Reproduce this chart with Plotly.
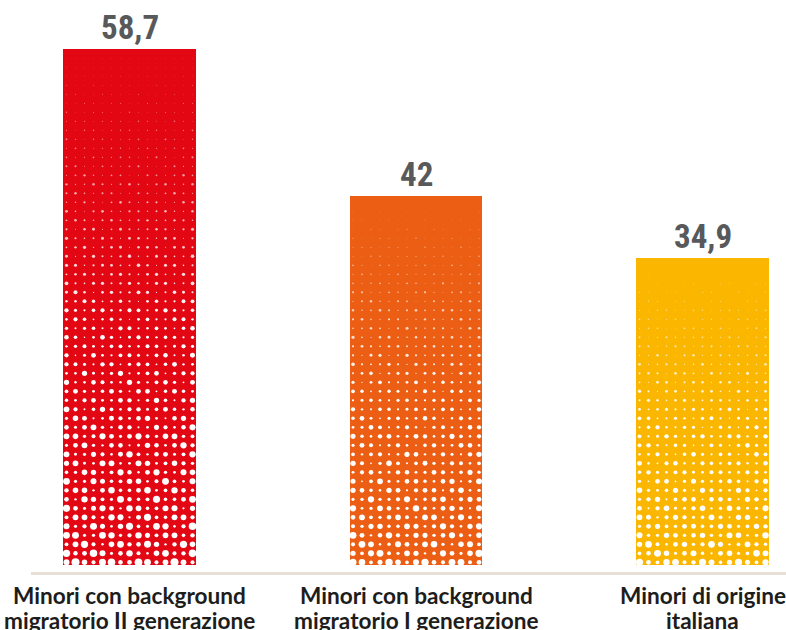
import math
import plotly.graph_objects as go

# --- data -------------------------------------------------------------
categories = [
    "Minori con background\nmigratorio II generazione",
    "Minori con background\nmigratorio I generazione",
    "Minori di origine\nitaliana",
]
values = [58.7, 42, 34.9]
value_labels = ["58,7", "42", "34,9"]
bar_colors = ["#E30613", "#EB5E14", "#FBB600"]

# --- geometry (axis units) --------------------------------------------
BAR_WIDTH = 0.464
X_RANGE = [-0.3438, 2.2914]
Y_RANGE = [-0.796, 64.27]
PX_PER_X = 286.5          # pixels per category step
PX_PER_Y = 8.79           # pixels per value unit
DOT_STEP_PX = 9.0         # halftone grid pitch

xs = list(range(len(categories)))

fig = go.Figure()

fig.add_trace(go.Bar(
    x=xs,
    y=values,
    width=BAR_WIDTH,
    marker=dict(color=bar_colors, line=dict(width=0)),
    hoverinfo="skip",
    showlegend=False,
))

# --- halftone texture: white dots growing toward the base of each bar ---
dot_x, dot_y, dot_s, dot_o = [], [], [], []
n_cols = 15
tallest = max(values)
for bi, (xc, v) in enumerate(zip(xs, values)):
    step_y = DOT_STEP_PX / PX_PER_Y
    step_x = DOT_STEP_PX / PX_PER_X
    s_max = 4.6 + 1.6 * (v / tallest)
    y = 0.3
    r = 0
    while y < v - 0.4:
        t = 1.0 - y / v  # 0 at the top of the bar, 1 at the base
        for c in range(n_cols):
            off = (c - (n_cols - 1) / 2) * step_x
            wob = 0.78 + 0.3 * math.sin(1.7 * c + 2.3 * r + 0.9 * bi) \
                + 0.12 * math.sin(0.45 * c * r + 1.1)
            size = max(0.7, (0.6 + s_max * t ** 1.05) * wob)
            op = min(1.0, 0.25 + 1.4 * t)
            dot_x.append(xc + off)
            dot_y.append(y)
            dot_s.append(size)
            dot_o.append(op)
        y += step_y
        r += 1

fig.add_trace(go.Scatter(
    x=dot_x,
    y=dot_y,
    mode="markers",
    marker=dict(color="white", size=dot_s, opacity=dot_o,
                line=dict(width=0), symbol="circle"),
    hoverinfo="skip",
    showlegend=False,
))

# --- value labels above the bars ----------------------------------------
for xc, v, lab in zip(xs, values, value_labels):
    fig.add_annotation(
        x=xc, y=v, xref="x", yref="y",
        text=lab, showarrow=False,
        yanchor="bottom", yshift=0,
        font=dict(family="Roboto Condensed, Open Sans Condensed, sans-serif",
                  size=33, color="#58595B", weight="bold"),
    )

# --- category labels under the axis (two lines, tight leading) ----------
LABEL_FONT = dict(family="Lato", size=22.6, color="#1D1D1B", weight="bold")
for xc, cat in zip(xs, categories):
    for li, line in enumerate(cat.split("\n")):
        fig.add_annotation(
            x=xc, y=0, xref="x", yref="paper",
            text=line, showarrow=False,
            xanchor="center", yanchor="top",
            yshift=-8 - 25 * li,
            font=LABEL_FONT,
        )

fig.update_layout(
    width=786,
    height=630,
    margin=dict(l=31, r=0, t=0, b=58, autoexpand=False),
    paper_bgcolor="white",
    plot_bgcolor="white",
    bargap=0,
    xaxis=dict(
        range=X_RANGE,
        tickmode="array",
        tickvals=xs,
        showticklabels=False,
        showgrid=False,
        zeroline=False,
        showline=True,
        linecolor="#E6E0D6",
        linewidth=3,
        ticks="",
        automargin=False,
        fixedrange=True,
    ),
    yaxis=dict(
        range=Y_RANGE,
        visible=False,
        showgrid=False,
        zeroline=False,
        automargin=False,
        fixedrange=True,
    ),
)

fig.write_html("out.html")
